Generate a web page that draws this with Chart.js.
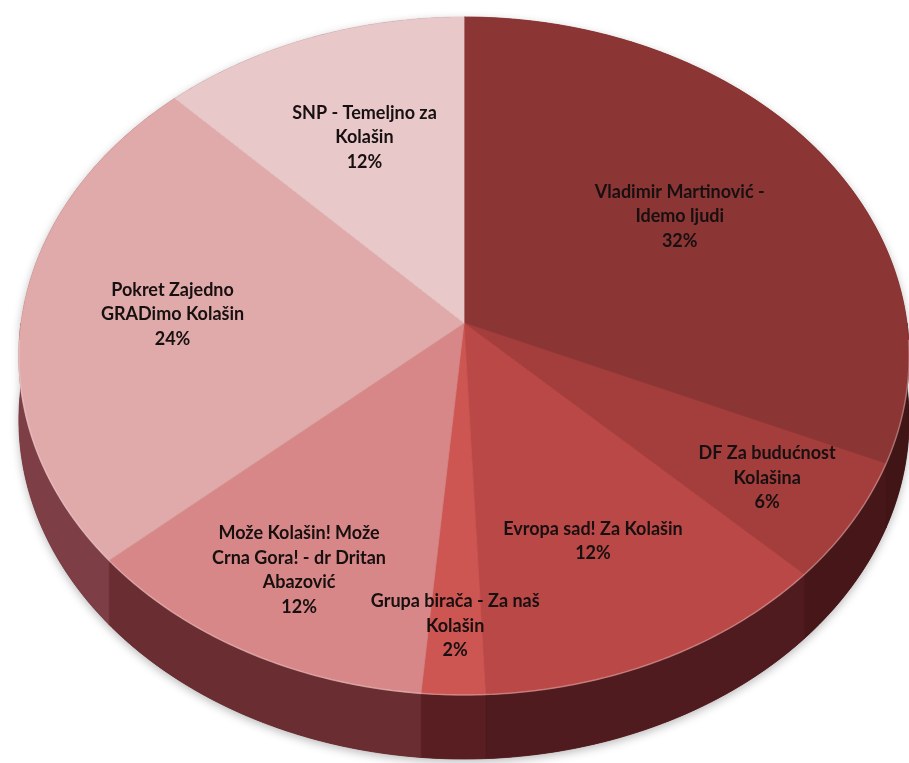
<!DOCTYPE html>
<html>
<head>
<meta charset="utf-8">
<script src="https://cdn.jsdelivr.net/npm/chart.js@4.4.0/dist/chart.umd.min.js"></script>
<style>
  html, body { margin: 0; background: #fff; }
  canvas { display: block; }
</style>
</head>
<body>
<canvas id="pie" width="909" height="763"></canvas>
<script>
// ---------- data (share of votes, %) ----------
const categories = [
  ['Vladimir Martinović -', 'Idemo ljudi'],
  ['DF Za budućnost', 'Kolašina'],
  ['Evropa sad! Za Kolašin'],
  ['Grupa birača - Za naš', 'Kolašin'],
  ['Može Kolašin! Može', 'Crna Gora! - dr Dritan', 'Abazović'],
  ['Pokret Zajedno', 'GRADimo Kolašin'],
  ['SNP - Temeljno za', 'Kolašin'],
];
const values = [31.6, 5.7, 12.0, 2.1, 12.1, 24.2, 12.3];

// ---------- style ----------
const sliceColors = ['#8b3534', '#a33e3c', '#b94846', '#cd5552', '#d78787', '#e0aaaa', '#e9c8ca'];
const sideColors  = ['#411416', '#461618', '#501b1e', '#581e21', '#692d32', '#7d3e46', '#8a5a5e'];
const labelRadius = [0.60, 0.79, 0.67, 0.83, 0.77, 0.66, 0.63];   // excel "best fit" spots

// tilted pie: top face is a perspective-projected disc, side wall extruded down
const VIEW = { cx: 464, cy: 323, rx: 443, ry: 335.8, k: 0.0973, depth: 64 };

function project(theta, f) {
  const u = Math.cos(theta) * f, v = Math.sin(theta) * f;
  const s = 1 / (1 - VIEW.k * v);
  return [VIEW.cx + VIEW.rx * u * s, VIEW.cy + VIEW.ry * v * s];
}

function edge(ctx, a0, a1, dy, first) {
  const n = Math.max(2, Math.ceil(Math.abs(a1 - a0) / 0.01));
  for (let j = 0; j <= n; j++) {
    const [x, y] = project(a0 + (a1 - a0) * j / n, 1);
    if (first && j === 0) ctx.moveTo(x, y + dy); else ctx.lineTo(x, y + dy);
  }
}

const pie3d = {
  id: 'pie3d',
  beforeDatasetsDraw(chart) {
    const ctx = chart.ctx;
    const arcs = chart.getDatasetMeta(0).data;
    const D = VIEW.depth;

    // soft drop shadow under the whole cake
    ctx.save();
    ctx.shadowColor = 'rgba(0,0,0,0.28)';
    ctx.shadowBlur = 10;
    ctx.shadowOffsetY = 3;
    ctx.beginPath();
    edge(ctx, 0, Math.PI, D, true);
    edge(ctx, Math.PI, 2 * Math.PI, 0, false);
    ctx.closePath();
    ctx.fillStyle = '#4a1a1c';
    ctx.fill();
    ctx.restore();

    // side walls (front half only)
    arcs.forEach((arc, i) => {
      const a0 = Math.max(arc.startAngle, 0), a1 = Math.min(arc.endAngle, Math.PI);
      if (a1 <= a0) return;
      ctx.beginPath();
      edge(ctx, a0, a1, 0, true);
      edge(ctx, a1, a0, D, false);
      ctx.closePath();
      ctx.fillStyle = sideColors[i];
      ctx.strokeStyle = sideColors[i];
      ctx.lineWidth = 0.8;
      ctx.fill();
      ctx.stroke();
    });

    // top faces
    const [ox, oy] = project(0, 0);
    arcs.forEach((arc, i) => {
      ctx.beginPath();
      ctx.moveTo(ox, oy);
      edge(ctx, arc.startAngle, arc.endAngle, 0, false);
      ctx.closePath();
      ctx.fillStyle = sliceColors[i];
      ctx.strokeStyle = sliceColors[i];
      ctx.lineWidth = 0.8;
      ctx.fill();
      ctx.stroke();
    });

    // light rim where top meets the wall
    ctx.beginPath();
    edge(ctx, 0.05, Math.PI - 0.05, 0, true);
    ctx.strokeStyle = 'rgba(255,235,235,0.35)';
    ctx.lineWidth = 1.5;
    ctx.stroke();
    return false; // skip the flat default arcs
  },
  afterDraw(chart) {
    const ctx = chart.ctx;
    const arcs = chart.getDatasetMeta(0).data;
    const total = values.reduce((a, b) => a + b, 0);
    ctx.save();
    ctx.font = 'bold 18px Lato, "Open Sans", sans-serif';
    ctx.fillStyle = '#181010';
    ctx.textAlign = 'center';
    ctx.textBaseline = 'middle';
    const lh = 24.5;
    arcs.forEach((arc, i) => {
      const mid = (arc.startAngle + arc.endAngle) / 2;
      const [x, y] = project(mid, labelRadius[i]);
      const lines = [...chart.data.labels[i], Math.round(values[i] / total * 100) + '%'];
      const y0 = y - (lines.length - 1) * lh / 2;
      lines.forEach((t, j) => ctx.fillText(t, x, y0 + j * lh));
    });
    ctx.restore();
  }
};

new Chart(document.getElementById('pie'), {
  type: 'pie',
  data: {
    labels: categories,
    datasets: [{ data: values, backgroundColor: sliceColors, borderWidth: 0 }]
  },
  options: {
    responsive: false,
    animation: false,
    plugins: { legend: { display: false }, tooltip: { enabled: false } }
  },
  plugins: [pie3d]
});
</script>
</body>
</html>
